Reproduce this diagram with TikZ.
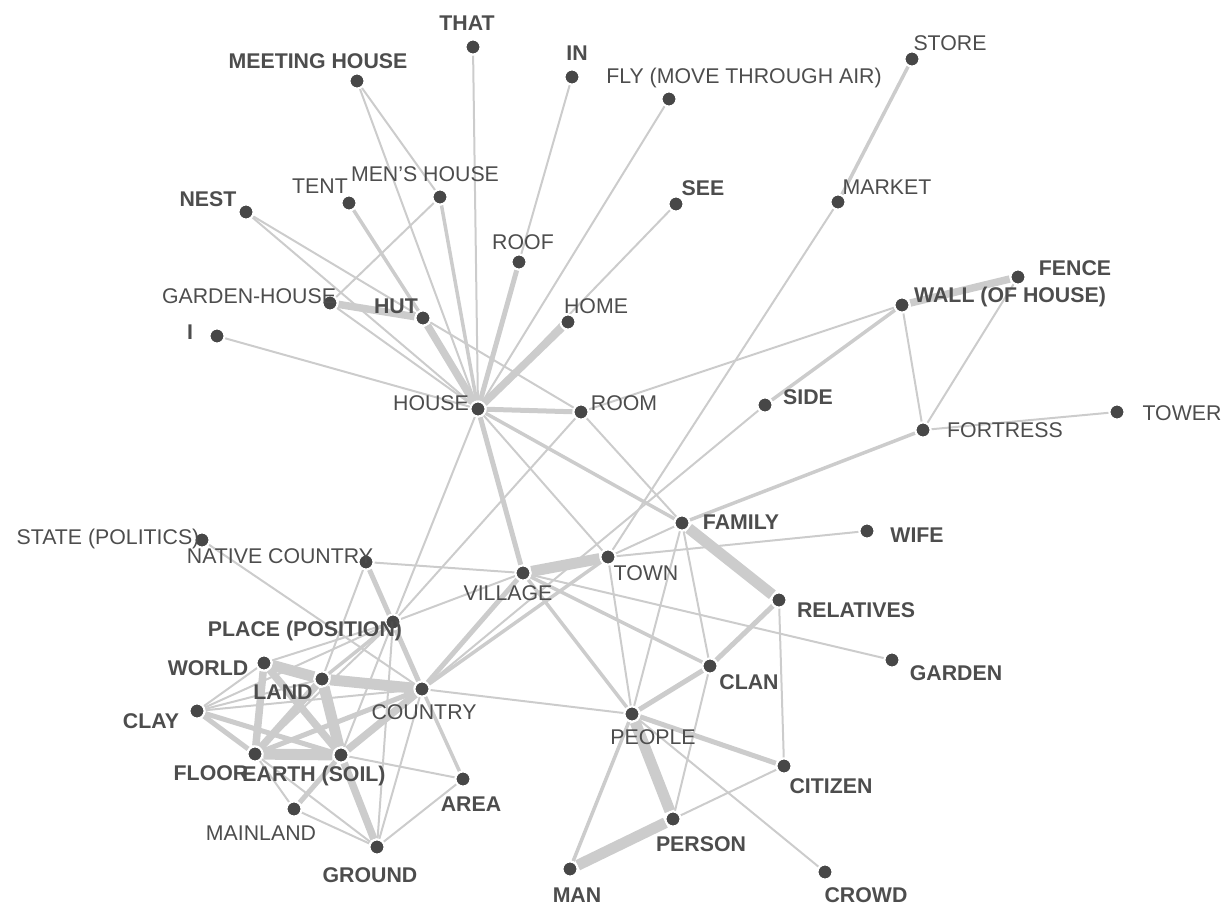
\documentclass[tikz,border=0pt]{standalone}
\usepackage{fontspec}
\setmainfont{Liberation Sans}
\definecolor{edgec}{HTML}{CCCCCC}
\definecolor{dotc}{HTML}{474747}
\definecolor{txt}{HTML}{4D4D4D}
\begin{document}
\begin{tikzpicture}[x=1pt,y=-1pt,
  dot/.style={circle,fill=dotc,draw=white,line width=2pt,inner sep=0pt,minimum size=15pt},
  lab/.style={text=txt,inner sep=0pt,font=\fontsize{21.3}{25}\selectfont},
  labb/.style={text=txt,inner sep=0pt,font=\fontsize{21.3}{25}\selectfont\bfseries},
  ea/.style={draw=edgec,line width=2pt},
  eb/.style={draw=edgec,line width=3.5pt},
  ec/.style={draw=edgec,line width=5pt},
  ed/.style={draw=edgec,line width=7.5pt},
  ee/.style={draw=edgec,line width=11pt},
]
\useasboundingbox (0,0) rectangle (1225,906);

% vertices
\node[dot] (that) at (473,47) {};
\node[dot] (in) at (572,77) {};
\node[dot] (meeting) at (357,81) {};
\node[dot] (fly) at (669,99) {};
\node[dot] (store) at (912,59) {};
\node[dot] (market) at (838,202) {};
\node[dot] (see) at (676,204) {};
\node[dot] (tent) at (349,203) {};
\node[dot] (mens) at (440,197) {};
\node[dot] (nest) at (246,212) {};
\node[dot] (roof) at (519,262) {};
\node[dot] (ghouse) at (330,303) {};
\node[dot] (hut) at (423,318) {};
\node[dot] (home) at (568,322) {};
\node[dot] (i) at (217,336) {};
\node[dot] (house) at (478,409) {};
\node[dot] (room) at (581,412) {};
\node[dot] (wall) at (902,305) {};
\node[dot] (fence) at (1018,277) {};
\node[dot] (side) at (765,405) {};
\node[dot] (fortress) at (923,430) {};
\node[dot] (tower) at (1117,412) {};
\node[dot] (family) at (682,523) {};
\node[dot] (wife) at (867,531) {};
\node[dot] (state) at (202,540) {};
\node[dot] (native) at (366,562) {};
\node[dot] (town) at (608,557) {};
\node[dot] (village) at (523,573) {};
\node[dot] (relatives) at (779,600) {};
\node[dot] (place) at (393,622) {};
\node[dot] (garden) at (892,660) {};
\node[dot] (world) at (264,663) {};
\node[dot] (land) at (322,679) {};
\node[dot] (country) at (422,689) {};
\node[dot] (clan) at (710,666) {};
\node[dot] (clay) at (197,711) {};
\node[dot] (people) at (632,714) {};
\node[dot] (floor) at (255,754) {};
\node[dot] (earth) at (341,755) {};
\node[dot] (area) at (463,779) {};
\node[dot] (citizen) at (784,766) {};
\node[dot] (mainland) at (294,809) {};
\node[dot] (ground) at (377,847) {};
\node[dot] (person) at (673,819) {};
\node[dot] (man) at (570,869) {};
\node[dot] (crowd) at (825,872) {};

% connectors around the house
\path[ea] (meeting) -- (house);
\path[ea] (meeting) -- (mens);
\path[ea] (that) -- (house);
\path[ea] (in) -- (roof);
\path[ec] (roof) -- (house);
\path[ea] (fly) -- (house);
\path[ea] (see) -- (house);
\path[eb] (store) -- (market);
\path[ea] (market) -- (town);
\path[ea] (nest) -- (house);
\path[ea] (nest) -- (hut);
\path[ea] (hut) -- (room);
\path[eb] (tent) -- (hut);
\path[ed] (hut) -- (house);
\path[eb] (mens) -- (house);
\path[ea] (mens) -- (ghouse);
\path[ed] (ghouse) -- (hut);
\path[ea] (ghouse) -- (house);
\path[ea] (i) -- (house);
\path[ed] (home) -- (house);
\path[ec] (house) -- (room);
\path[ec] (house) -- (village);
\path[eb] (house) -- (family);
\path[ea] (house) -- (town);
\path[ea] (house) -- (place);
\path[ea] (room) -- (place);
\path[ea] (room) -- (family);
\path[ea] (room) -- (wall);
% wall and fortress
\path[eb] (wall) -- (side);
\path[ed] (wall) -- (fence);
\path[ea] (wall) -- (fortress);
\path[ea] (fence) -- (fortress);
\path[ea] (fortress) -- (tower);
\path[eb] (fortress) -- (family);
\path[ea] (side) -- (country);
% family, town, village
\path[ea] (family) -- (town);
\path[ee] (family) -- (relatives);
\path[ea] (family) -- (clan);
\path[ea] (family) -- (people);
\path[ea] (town) -- (wife);
\path[ee] (village) -- (town);
\path[ea] (village) -- (garden);
\path[eb] (village) -- (clan);
\path[eb] (village) -- (people);
\path[ea] (native) -- (village);
\path[ec] (country) -- (village);
\path[eb] (country) -- (town);
\path[ea] (place) -- (village);
\path[ec] (native) -- (country);
\path[ea] (native) -- (land);
\path[ea] (state) -- (country);
% people
\path[ea] (country) -- (people);
\path[ec] (people) -- (clan);
\path[ec] (relatives) -- (clan);
\path[ee] (people) -- (person);
\path[eb] (people) -- (man);
\path[ec] (people) -- (citizen);
\path[ea] (people) -- (crowd);
\path[ea] (town) -- (people);
\path[ea] (relatives) -- (citizen);
\path[ea] (clan) -- (person);
\path[ee] (person) -- (man);
\path[ea] (person) -- (citizen);
% land cluster
\path[ea] (place) -- (world);
\path[eb] (place) -- (land);
\path[ea] (place) -- (ground);
\path[ea] (place) -- (earth);
\path[ea] (place) -- (floor);
\path[ea] (place) -- (clay);
\path[ee] (world) -- (land);
\path[ee] (land) -- (country);
\path[ed] (world) -- (earth);
\path[ed] (world) -- (floor);
\path[ea] (world) -- (clay);
\path[ee] (land) -- (earth);
\path[ed] (land) -- (floor);
\path[ea] (land) -- (clay);
\path[ec] (clay) -- (floor);
\path[ec] (clay) -- (earth);
\path[ea] (clay) -- (country);
\path[ee] (floor) -- (earth);
\path[ec] (floor) -- (country);
\path[ed] (earth) -- (country);
\path[ec] (earth) -- (mainland);
\path[ea] (earth) -- (area);
\path[ed] (earth) -- (ground);
\path[ea] (floor) -- (mainland);
\path[ea] (floor) -- (ground);
\path[ea] (mainland) -- (ground);
\path[eb] (country) -- (area);
\path[ea] (country) -- (ground);
\path[ea] (area) -- (ground);

% vertices again, on top of the connectors
\foreach \v in {that,in,meeting,fly,store,market,see,tent,mens,nest,roof,ghouse,hut,home,i,house,room,wall,fence,side,fortress,tower,family,wife,state,native,town,village,relatives,place,garden,world,land,country,clan,clay,people,floor,earth,area,citizen,mainland,ground,person,man,crowd}
  \node[dot] at (\v.center) {};

% labels
\node[labb] (that-t) at (467,23) {THAT};
\node[labb] (in-t) at (577,53) {IN};
\node[labb] (meeting-t) at (318,61) {MEETING HOUSE};
\node[lab] (fly-t) at (744,78) {FLY (MOVE THROUGH AIR)};
\node[lab] (store-t) at (950,43) {STORE};
\node[lab] (market-t) at (887,187) {MARKET};
\node[labb] (see-t) at (703,188) {SEE};
\node[lab] (tent-t) at (320,186) {TENT};
\node[lab] (mens-t) at (425,174) {MEN'S HOUSE};
\node[labb] (nest-t) at (208,199) {NEST};
\node[lab] (roof-t) at (523,242) {ROOF};
\node[lab] (ghouse-t) at (249,296) {GARDEN-HOUSE};
\node[labb] (hut-t) at (396,306) {HUT};
\node[lab] (home-t) at (596,306) {HOME};
\node[labb] (i-t) at (190,332) {I};
\node[lab] (house-t) at (431,403) {HOUSE};
\node[lab] (room-t) at (624,403) {ROOM};
\node[labb] (wall-t) at (1010,297) {WALL (OF HOUSE)};
\node[labb] (fence-t) at (1075,268) {FENCE};
\node[labb] (side-t) at (808,397) {SIDE};
\node[lab] (fortress-t) at (1005,430) {FORTRESS};
\node[lab] (tower-t) at (1182,413) {TOWER};
\node[labb] (family-t) at (741,522) {FAMILY};
\node[labb] (wife-t) at (917,535) {WIFE};
\node[lab] (state-t) at (108,539) {STATE (POLITICS)};
\node[lab] (native-t) at (280,556) {NATIVE COUNTRY};
\node[lab] (town-t) at (646,573) {TOWN};
\node[lab] (village-t) at (508,593) {VILLAGE};
\node[labb] (relatives-t) at (856,610) {RELATIVES};
\node[labb] (place-t) at (305,631) {PLACE (POSITION)};
\node[labb] (garden-t) at (956,673) {GARDEN};
\node[labb] (world-t) at (208,668) {WORLD};
\node[labb] (land-t) at (283,692) {LAND};
\node[lab] (country-t) at (424,712) {COUNTRY};
\node[labb] (clan-t) at (749,682) {CLAN};
\node[labb] (clay-t) at (151,721) {CLAY};
\node[lab] (people-t) at (653,737) {PEOPLE};
\node[labb] (floor-t) at (211,773) {FLOOR};
\node[labb] (earth-t) at (314,776) {EARTH (SOIL)};
\node[lab] (mainland-t) at (261,833) {MAINLAND};
\node[labb] (area-t) at (471,804) {AREA};
\node[labb] (citizen-t) at (831,786) {CITIZEN};
\node[labb] (ground-t) at (370,875) {GROUND};
\node[labb] (person-t) at (701,844) {PERSON};
\node[labb] (man-t) at (577,895) {MAN};
\node[labb] (crowd-t) at (866,895) {CROWD};
\end{tikzpicture}
\end{document}
